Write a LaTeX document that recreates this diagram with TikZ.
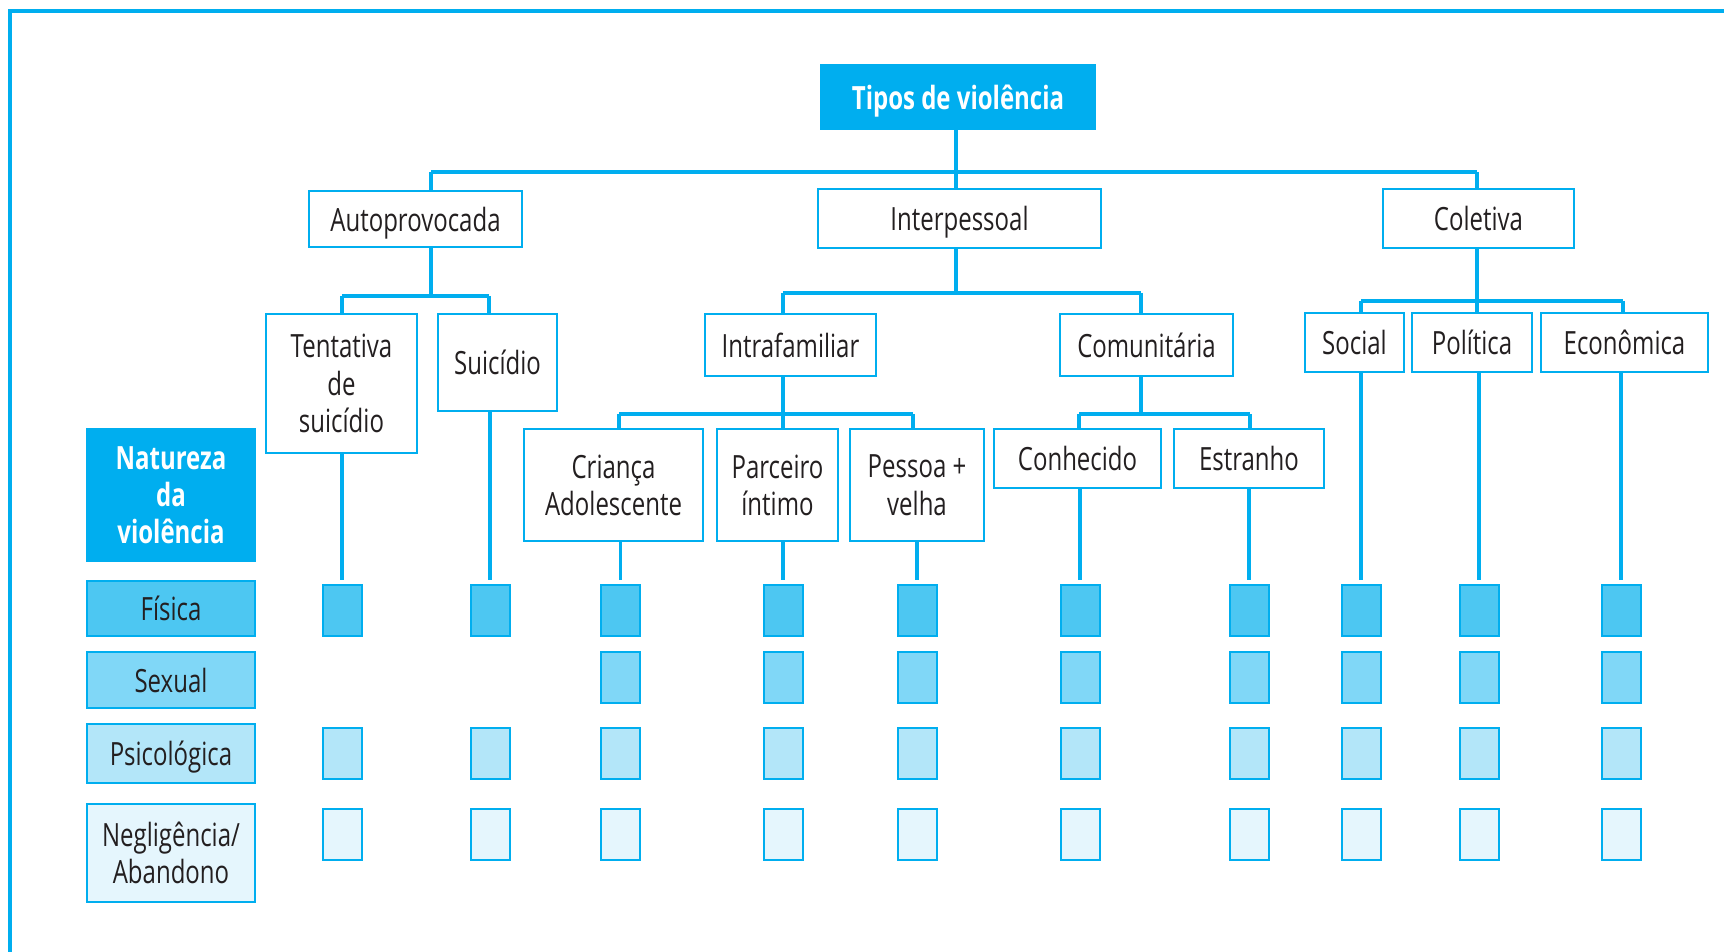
\documentclass[tikz,border=0pt]{standalone}
\usepackage{fontspec}
\setmainfont[FakeStretch=0.75]{Open Sans}
\usetikzlibrary{positioning}

\definecolor{cyanbar}{HTML}{00AEEF}
\definecolor{fisfill}{HTML}{4DC7F2}
\definecolor{sexfill}{HTML}{80D7F7}
\definecolor{psifill}{HTML}{B3E6F9}
\definecolor{negfill}{HTML}{E5F6FD}
\definecolor{inkblack}{HTML}{231F20}

\tikzset{
  box/.style={draw=cyanbar, line width=1pt, fill=white, align=center, inner sep=0pt,
    text depth=0pt, text=inkblack, font=\fontsize{16}{18.7}\selectfont},
  headbox/.style={box, draw=cyanbar, fill=cyanbar, text=white, font=\fontsize{16}{18.7}\selectfont\bfseries},
  legbox/.style={box, minimum width=84pt},
  sq/.style={draw=cyanbar, line width=1pt, minimum width=19.5pt, minimum height=25.5pt, inner sep=0pt},
  link/.style={draw=cyanbar, line width=1.75pt},
  frame/.style={draw=cyanbar, line width=2pt}
}

\begin{document}
\begin{tikzpicture}[x=0.5pt, y=-0.5pt]
  \path[use as bounding box] (0,0) rectangle (1724,952);

  % outer frame (open on the right and at the bottom)
  \draw[frame] (10,952) -- (10,11) -- (1724,11);

  % root
  \node[headbox, minimum width=137pt, minimum height=32pt] (tipos) at (958,97) {Tipos de violência};

  % first level
  \node[box, minimum width=106.5pt, minimum height=28pt]   (auto)  at (415.5,219)  {Autoprovocada};
  \node[box, minimum width=141.5pt, minimum height=29.5pt] (inter) at (959.5,218.5) {Interpessoal};
  \node[box, minimum width=95.5pt,  minimum height=29.5pt] (colet) at (1478.5,218.5) {Coletiva};

  % second level
  \node[box, minimum width=75.5pt, minimum height=69.5pt] (tent) at (341.5,383.5) {Tentativa\\de\\suicídio};
  \node[box, minimum width=59.5pt, minimum height=48.5pt] (suic) at (497.5,362.5) {Suicídio};
  \node[box, minimum width=85.5pt, minimum height=31pt]   (intra) at (790.5,345) {Intrafamiliar};
  \node[box, minimum width=86.5pt, minimum height=31pt]   (comun) at (1146.5,345) {Comunitária};
  \node[box, minimum width=49.5pt, minimum height=29.5pt] (social) at (1354.5,342.5) {Social};
  \node[box, minimum width=60pt,   minimum height=29.5pt] (politica) at (1472,342.5) {Política};
  \node[box, minimum width=83.5pt, minimum height=29.5pt] (economica) at (1624.5,342.5) {Econômica};

  % third level
  \node[box, minimum width=89.5pt, minimum height=56pt]   (crianca) at (613.5,485) {Criança\\Adolescente};
  \node[box, minimum width=60.5pt, minimum height=56pt]   (parceiro) at (777.5,485) {Parceiro\\íntimo};
  \node[box, minimum width=67pt,   minimum height=56pt]   (pessoa) at (917,485) {Pessoa +\\velha};
  \node[box, minimum width=83.5pt, minimum height=29.5pt] (conhec) at (1077.5,458.5) {Conhecido};
  \node[box, minimum width=75pt,   minimum height=29.5pt] (estranho) at (1249,458.5) {Estranho};

  % legend on the left
  \node[headbox, minimum width=84pt, minimum height=66pt] (natureza) at (171,495) {Natureza\\da\\violência};
  \node[legbox, fill=fisfill, minimum height=27.5pt] (fisica) at (171,608.5) {Física};
  \node[legbox, fill=sexfill, minimum height=28pt]   (sexual) at (171,680) {Sexual};
  \node[legbox, fill=psifill, minimum height=29.5pt] (psico)  at (171,753.5) {Psicológica};
  \node[legbox, fill=negfill, minimum height=49pt]   (neglig) at (171,853) {Negligência/\\Abandono};

  % squares
  \foreach \n/\x in {tent/342, suic/490, crianca/620.5, parceiro/783, pessoa/917,
                     conhec/1080, estranho/1249, social/1361, politica/1479, economica/1621} {
    \node[sq, fill=fisfill] (f-\n) at (\x,610.5) {};
    \node[sq, fill=psifill] (p-\n) at (\x,753.5) {};
    \node[sq, fill=negfill] (n-\n) at (\x,834.5) {};
  }
  \foreach \n/\x in {crianca/620.5, parceiro/783, pessoa/917,
                     conhec/1080, estranho/1249, social/1361, politica/1479, economica/1621}
    \node[sq, fill=sexfill] (s-\n) at (\x,677.5) {};

  % bus under the root
  \path (431,172) coordinate (j-auto) (956,172) coordinate (j-inter) (1477,172) coordinate (j-colet);
  \draw[link] (j-inter |- tipos.south) -- (j-inter);
  \draw[link] (j-auto) -- (j-colet);
  \foreach \n in {auto,inter,colet}
    \draw[link] (j-\n) -- (j-\n |- \n.north);

  % Autoprovocada
  \path (342,296) coordinate (j-tent) (489,296) coordinate (j-suic);
  \draw[link] (j-auto |- auto.south) -- (j-auto |- j-tent);
  \draw[link] (j-tent) -- (j-suic);
  \foreach \n in {tent,suic}
    \draw[link] (j-\n) -- (j-\n |- \n.north);

  % Interpessoal
  \path (783,293) coordinate (j-intra) (1141,293) coordinate (j-comun);
  \draw[link] (j-inter |- inter.south) -- (j-inter |- j-intra);
  \draw[link] (j-intra) -- (j-comun);
  \foreach \n in {intra,comun}
    \draw[link] (j-\n) -- (j-\n |- \n.north);

  % Coletiva
  \path (1361,301) coordinate (j-social) (1477,301) coordinate (j-politica) (1623,301) coordinate (j-economica);
  \draw[link] (j-colet |- colet.south) -- (j-politica);
  \draw[link] (j-social) -- (j-economica);
  \foreach \n in {social,politica,economica}
    \draw[link] (j-\n) -- (j-\n |- \n.north);

  % Intrafamiliar
  \path (619,414) coordinate (j-crianca) (783,414) coordinate (j-parceiro) (913,414) coordinate (j-pessoa);
  \draw[link] (j-intra |- intra.south) -- (j-parceiro);
  \draw[link] (j-crianca) -- (j-pessoa);
  \foreach \n in {crianca,parceiro,pessoa}
    \draw[link] (j-\n) -- (j-\n |- \n.north);

  % Comunitária
  \path (1079,414) coordinate (j-conhec) (1250,414) coordinate (j-estranho);
  \draw[link] (j-comun |- comun.south) -- (j-comun |- j-conhec);
  \draw[link] (j-conhec) -- (j-estranho);
  \foreach \n in {conhec,estranho}
    \draw[link] (j-\n) -- (j-\n |- \n.north);

  % drops to the first row of squares
  \foreach \n in {tent,suic,crianca,parceiro,pessoa,conhec,estranho,social,politica,economica}
    \draw[link] (f-\n.north |- \n.south) -- ([yshift=2pt]f-\n.north);
\end{tikzpicture}
\end{document}
